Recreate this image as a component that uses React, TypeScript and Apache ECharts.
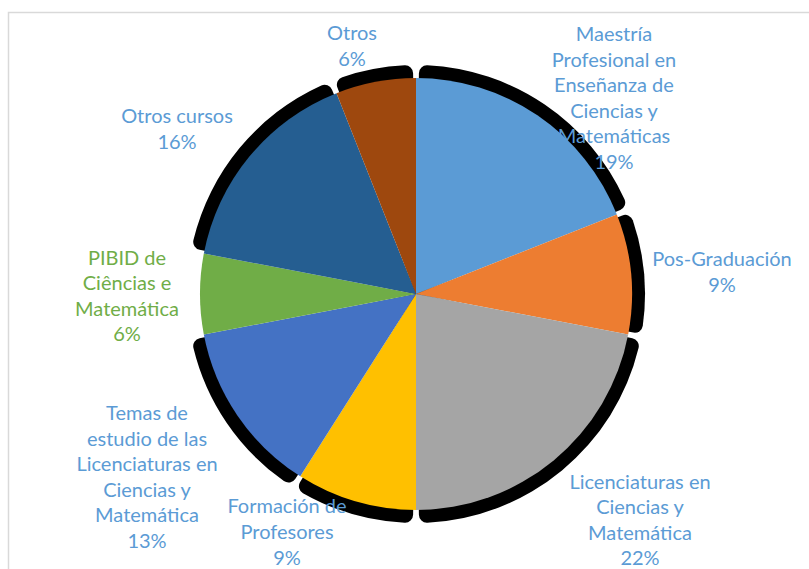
import React, { useEffect, useRef } from "react";
import * as echarts from "echarts";

const categories = [
  "Maestría\nProfesional en\nEnseñanza de\nCiencias y\nMatemáticas",
  "Pos-Graduación",
  "Licenciaturas en\nCiencias y\nMatemática",
  "Formación de\nProfesores",
  "Temas de\nestudio de las\nLicenciaturas en\nCiencias y\nMatemática",
  "PIBID de\nCiências e\nMatemática",
  "Otros cursos",
  "Otros",
];
const values = [19, 9, 22, 9, 13, 6, 16, 6];

const sliceColors = ["#5B9BD5", "#ED7D31", "#A5A5A5", "#FFC000", "#4472C4", "#70AD47", "#255E91", "#9E480E"];
const labelColors = ["#5B9BD5", "#5B9BD5", "#5B9BD5", "#5B9BD5", "#5B9BD5", "#70AD47", "#5B9BD5", "#5B9BD5"];
const shadowColors = ["#000", "#000", "#000", "#000", "#000", "rgba(0,0,0,0)", "#000", "#000"];
const labelPos: [number, number][] = [
  [614, 97],
  [722, 271],
  [640, 519],
  [287, 531],
  [147, 476],
  [127, 295],
  [177, 128],
  [352, 45],
];

export default function App() {
  const ref = useRef<HTMLDivElement>(null);
  useEffect(() => {
    if (!ref.current) return;
    const chart = echarts.init(ref.current, null, { renderer: "svg" });
    const font = "Lato, 'Open Sans', sans-serif";
    chart.setOption({
      animation: false,
      backgroundColor: "#fff",
      graphic: [
        {
          type: "rect",
          shape: { x: 8.5, y: 12.5, width: 900, height: 700 },
          style: { fill: "none", stroke: "#d9d9d9", lineWidth: 1.5 },
          silent: true,
          z: -10,
        },
      ],
      series: [
        {
          type: "pie",
          silent: true,
          center: [416, 294],
          radius: [0, 229],
          startAngle: 90,
          padAngle: 1.5,
          z: 1,
          itemStyle: { borderRadius: 8 },
          label: { show: false },
          labelLine: { show: false },
          data: values.map((v, i) => ({ value: v, name: "s" + i, itemStyle: { color: shadowColors[i] } })),
        },
        {
          type: "pie",
          center: [416, 294],
          radius: [0, 216],
          startAngle: 90,
          z: 2,
          labelLine: { show: false },
          label: {
            show: true,
            position: "outside",
            formatter: "{b}\n{d}%",
            fontFamily: font,
            fontSize: 20,
            lineHeight: 25.6,
            align: "center",
            overflow: "none",
            width: 300,
          },
          labelLayout: (p: any) => ({
            x: labelPos[p.dataIndex][0],
            y: labelPos[p.dataIndex][1],
            align: "center",
            verticalAlign: "middle",
            hideOverlap: false,
          }),
          data: values.map((v, i) => ({
            value: v,
            name: categories[i],
            itemStyle: { color: sliceColors[i] },
            label: { color: labelColors[i] },
          })),
        },
      ],
    });
    return () => chart.dispose();
  }, []);
  return <div ref={ref} style={{ position: "fixed", left: 0, top: 0, width: 809, height: 569 }} />;
}
